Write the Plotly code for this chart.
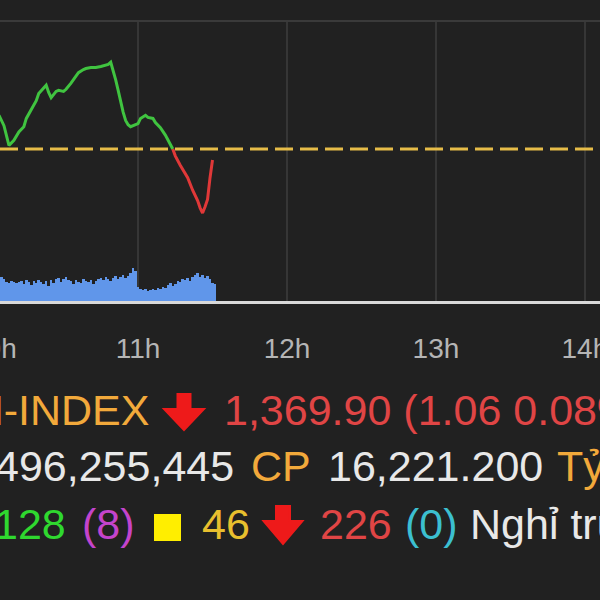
import plotly.graph_objects as go

# ---------------- data ----------------
ref_price = 1370.96
day = "2022-01-20 "

price_times = ["10:04", "10:06", "10:08", "10:09", "10:10", "10:12", "10:14", "10:15", "10:17", "10:19",
               "10:20", "10:22", "10:23", "10:24", "10:25", "10:27", "10:28", "10:30", "10:31", "10:33",
               "10:35", "10:36", "10:38", "10:39", "10:41", "10:43", "10:45", "10:47", "10:48", "10:49",
               "10:50", "10:51", "10:52", "10:53", "10:54", "10:55", "10:56", "10:57", "10:58", "10:59",
               "11:00", "11:01", "11:03", "11:04", "11:06", "11:07", "11:09", "11:11", "11:12", "11:14",
               "11:15", "11:17", "11:19", "11:20", "11:22", "11:24", "11:25", "11:26", "11:27", "11:28",
               "11:29", "11:30"]
price_values = [1374.2, 1373.2, 1371.3, 1371.6, 1371.8, 1372.6, 1373.1, 1373.9, 1374.7, 1375.6,
                1376.3, 1376.8, 1377.1, 1376.4, 1375.9, 1376.5, 1376.6, 1376.5, 1376.7, 1377.3,
                1377.9, 1378.3, 1378.6, 1378.7, 1378.8, 1378.8, 1378.9, 1379.0, 1379.1, 1379.3,
                1378.5, 1377.6, 1376.6, 1375.4, 1374.5, 1373.7, 1373.3, 1373.1, 1373.2, 1373.3,
                1373.4, 1373.9, 1374.2, 1374.0, 1373.9, 1373.5, 1373.0, 1372.3, 1371.8, 1370.96,
                1370.3, 1369.4, 1368.6, 1368.2, 1367.0, 1366.0, 1365.3, 1364.8, 1365.4, 1366.1,
                1368.2, 1369.9]

vol_start_minute = 4  # 10:04
volumes = [25, 24, 22, 19, 18, 20, 19, 18, 19,
           20, 17, 21, 19, 16, 20, 18, 21, 19, 17, 20, 15, 21, 18,
           22, 23, 19, 22, 24, 21,
           20, 17, 21, 19, 18, 22, 20, 19, 21, 17, 20, 22,
           23, 21, 24, 22, 20, 23, 25, 22, 24, 26, 23,
           25, 28, 33, 30,
           14, 12, 11, 12, 10, 11, 12,
           11, 13, 12, 14, 13,
           16, 18, 15, 17, 20, 19,
           22, 21, 23, 20, 24, 26,
           28, 24, 26, 23,
           25, 22, 18, 17]

hour_ticks = ["11:00", "12:00", "13:00", "14:00"]

# ---------------- build ----------------
def ts(hm):
    return day + hm + ":00"

px_times = [ts(t) for t in price_times]
vol_times = []
for i in range(len(volumes)):
    m = 10 * 60 + vol_start_minute + i
    vol_times.append(ts(f"{m // 60:02d}:{m % 60:02d}"))

split = next(i for i, v in enumerate(price_values) if v < ref_price) - 1

fig = go.Figure()
fig.add_trace(go.Bar(x=vol_times, y=volumes, yaxis="y2", marker=dict(color="#6096ea", line=dict(width=0)),
                     width=60000, showlegend=False))
fig.add_trace(go.Scatter(x=px_times[:split + 1], y=price_values[:split + 1], mode="lines",
                         line=dict(color="#40c440", width=3), showlegend=False))
fig.add_trace(go.Scatter(x=px_times[split:], y=price_values[split:], mode="lines",
                         line=dict(color="#e03838", width=3), showlegend=False))
fig.add_hline(y=ref_price, line=dict(color="#e6bc48", width=3, dash="18px,7px"))

# layout geometry
T, B = 21, 301
plot_h = B - T

def py(p):
    return (B - p) / plot_h

fig.update_layout(
    width=600, height=600,
    margin=dict(l=0, r=0, t=T, b=600 - B, autoexpand=False),
    paper_bgcolor="#212121", plot_bgcolor="#212121",
    bargap=0,
    xaxis=dict(type="date", range=[day + "10:04:24", day + "14:06:05"],
               tickvals=[ts(h) for h in hour_ticks], tickformat="%-Hh",
               showgrid=True, gridcolor="#363636", gridwidth=2,
               showline=True, linecolor="#d9d9d9", linewidth=3,
               ticks="", ticklabelstandoff=20, ticklabeloverflow="allow", automargin=False,
               tickfont=dict(family="Liberation Sans, Arial", size=28, color="#b5b5b5"),
               zeroline=False),
    yaxis=dict(range=[ref_price - (B - 149) / 10.4, ref_price + (149 - T) / 10.4],
               showgrid=False, showticklabels=False, zeroline=False, fixedrange=True,
               automargin=False),
    yaxis2=dict(range=[0, plot_h], overlaying="y", showgrid=False, showticklabels=False,
                zeroline=False, visible=False),
    showlegend=False,
)

# top border line
fig.add_shape(type="line", xref="paper", yref="paper", x0=0, x1=1, y0=1, y1=1,
              line=dict(color="#3a3a3a", width=2))

FONT = "Liberation Sans, Arial, sans-serif"

def label(text, xpx, ypx, color, anchor="left", size=43):
    fig.add_annotation(text=text, xref="paper", yref="paper", x=xpx / 600, y=py(ypx),
                       xanchor=anchor, yanchor="middle", showarrow=False,
                       font=dict(family=FONT, size=size, color=color))

def down_arrow(cx, top, head_top, tip, half_w, stem_half):
    pts = [(cx - stem_half, top), (cx + stem_half, top), (cx + stem_half, head_top),
           (cx + half_w, head_top), (cx, tip), (cx - half_w, head_top), (cx - stem_half, head_top)]
    path = "M " + " L ".join(f"{x / 600:.5f},{py(y):.5f}" for x, y in pts) + " Z"
    fig.add_shape(type="path", xref="paper", yref="paper", path=path,
                  fillcolor="#ee1a1a", line=dict(color="#ee1a1a", width=2))

ORANGE = "#f2a93b"
WHITE = "#e8e8e8"
RED = "#e04545"

# hour label left of the visible range (10h), partially visible
label("10h", -7, 348, "#b5b5b5", "center", size=28)

# row 1
label("VN-INDEX", 151, 410, ORANGE, "right")
down_arrow(184, 394, 409, 430, 20, 6.5)
label("1,369.90 (1.06 0.08%)", 222, 410, RED)
# row 2
label("496,255,445", 236, 466, WHITE, "right")
label("CP", 249, 466, ORANGE)
label("16,221.200", 326, 466, WHITE)
label("Tỷ", 555, 466, ORANGE)
# row 3
label("128", 68, 524, "#2fd82f", "right")
label("(8)", 80, 524, "#c444cc")
fig.add_shape(type="rect", xref="paper", yref="paper", x0=154 / 600, x1=181 / 600,
              y0=py(541), y1=py(514), fillcolor="#ffee00", line=dict(width=0))
label("46", 200, 524, "#e8bf2e")
down_arrow(283, 506, 521, 544, 19.5, 7)
label("226", 318, 524, RED)
label("(0)", 403, 524, "#3cbfd0")
label("Nghỉ trưa", 468, 524, WHITE)

fig.write_html("out.html", config={"displayModeBar": False},
               post_script="document.body.style.margin='0';")
